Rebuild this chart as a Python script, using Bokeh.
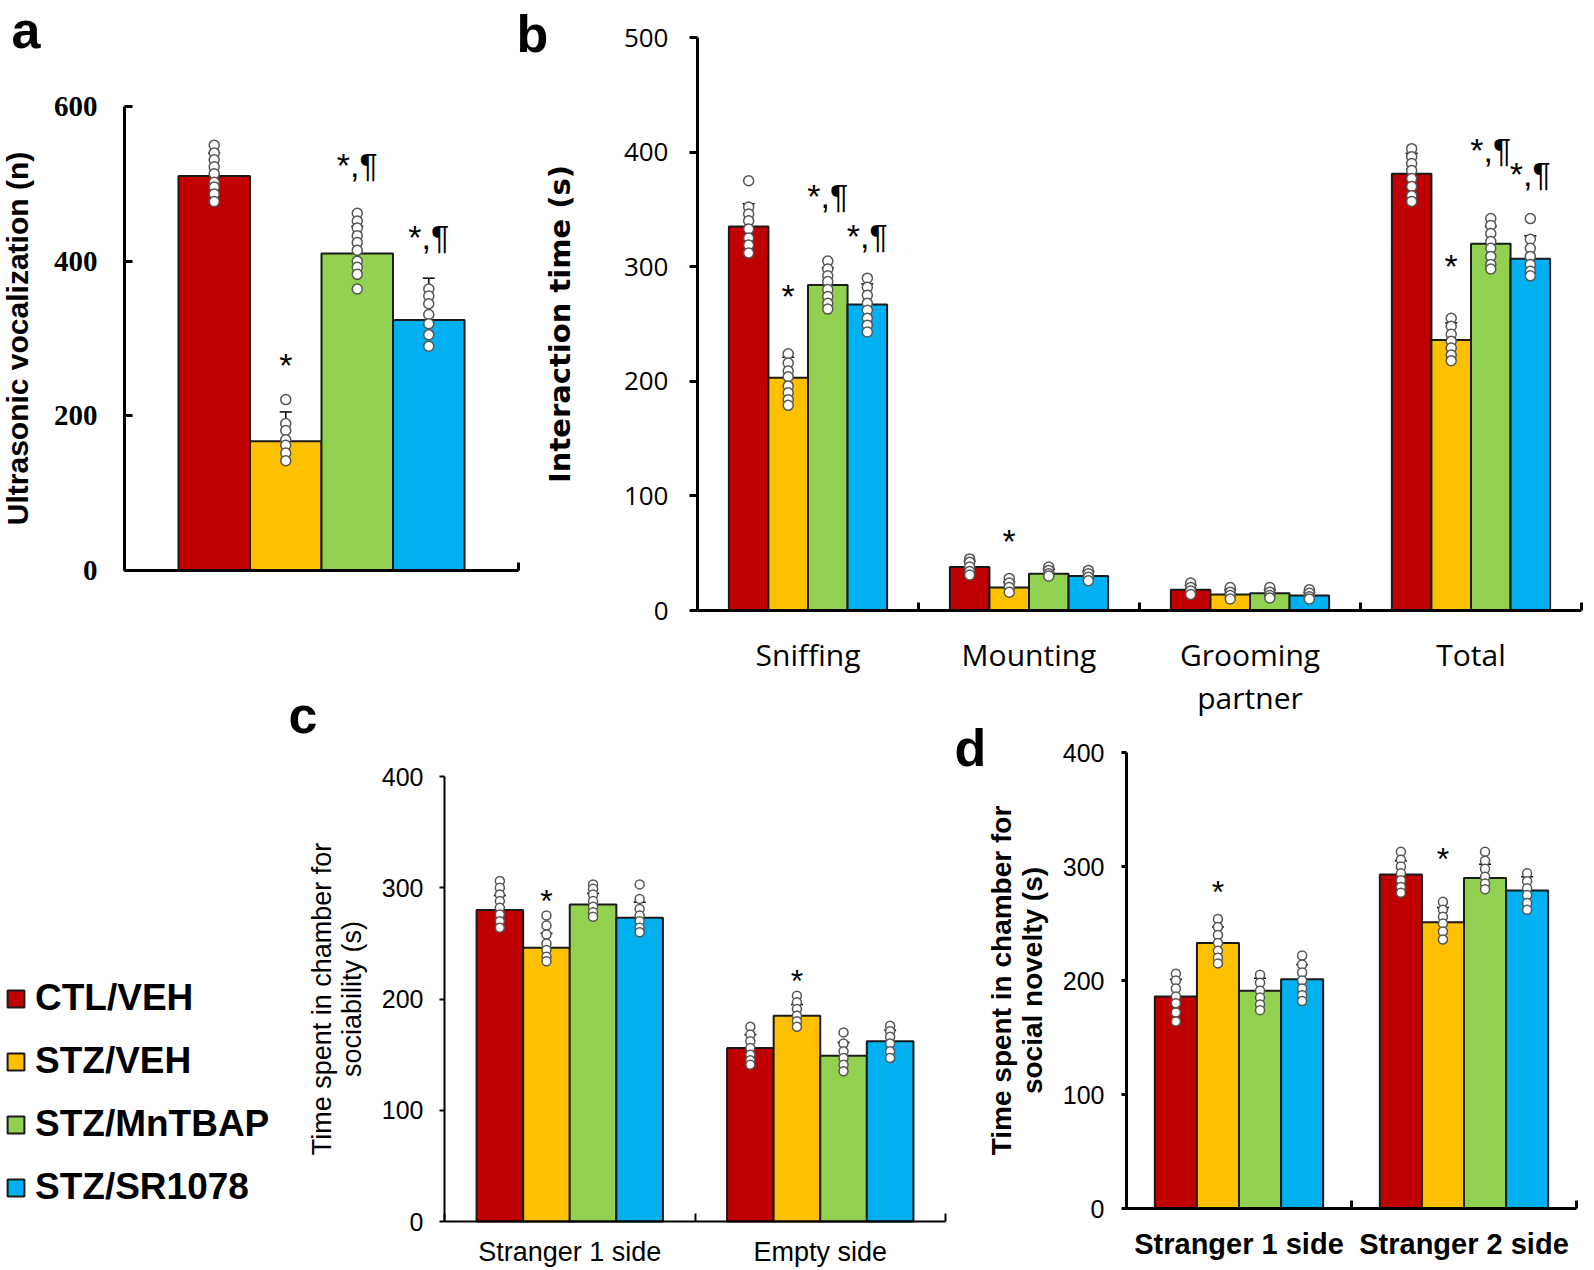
from bokeh.plotting import figure
from bokeh.models import (Range1d, FixedTicker, Legend, LegendItem, Label, LinearAxis)
from bokeh.core.properties import value
from bokeh.embed import file_html
from bokeh.resources import INLINE

GROUPS = ["CTL/VEH", "STZ/VEH", "STZ/MnTBAP", "STZ/SR1078"]
COLORS = ["#C00000", "#FFC000", "#92D050", "#00B0F0"]

# ---------------- panel a : ultrasonic vocalization ----------------
A_CATS = [""]
A_YTICKS = [0, 200, 400, 600]
A_MEAN = [[510], [167], [410], [324]]
A_SD = [[30], [38], [35], [54]]
A_PTS = [
    [[550, 540, 531, 522, 513, 502, 496, 487, 477]],
    [[221, 190, 181, 169, 162, 152, 142]],
    [[462, 452, 443, 433, 424, 414, 400, 392, 383, 364]],
    [[364, 355, 345, 331, 319, 305, 290]],
]
A_SIG = [[""], ["*"], ["*,¶"], ["*,¶"]]
A_SIG_Y = [[None], [271], [521], [428]]

# ---------------- panel b : interaction time ----------------
B_CATS = ["Sniffing", "Mounting", "Grooming\npartner", "Total"]
B_YTICKS = [0, 100, 200, 300, 400, 500]
B_MEAN = [[335, 38, 18, 381], [203, 20, 14, 236], [284, 32, 15, 320], [267, 30, 13, 307]]
B_SD = [[20, 5, 4, 18], [18, 5, 4, 15], [15, 4, 3, 15], [18, 4, 3, 20]]
B_PTS = [
    [[375, 352, 346, 340, 333, 325, 319, 312], [45, 42, 38, 34, 31], [24, 20, 17, 14],
     [403, 396, 390, 384, 377, 370, 362, 357]],
    [[224, 216, 209, 204, 196, 190, 184, 179], [28, 24, 20, 16], [20, 16, 13, 10],
     [255, 248, 241, 235, 229, 223, 218]],
    [[305, 298, 292, 287, 280, 274, 268, 263], [38, 35, 32, 30], [20, 16, 13, 11],
     [342, 336, 329, 322, 316, 309, 302, 298]],
    [[290, 282, 275, 268, 262, 255, 249, 243], [35, 32, 29, 26], [18, 15, 12, 10],
     [342, 324, 316, 309, 302, 296, 292]],
]
B_SIG = [["", "", "", ""], ["*", "*", "", "*"], ["*,¶", "", "", "*,¶"], ["*,¶", "", "", "*,¶"]]
B_SIG_Y = [[None, None, None, None], [278, 64, None, 304], [359, None, None, 399],
           [324, None, None, 378]]

# ---------------- panel c : sociability ----------------
C_CATS = ["Stranger 1 side", "Empty side"]
C_YTICKS = [0, 100, 200, 300, 400]
C_MEAN = [[280, 156], [246, 185], [285, 149], [273, 162]]
C_SD = [[13, 12], [13, 10], [10, 12], [14, 10]]
C_PTS = [
    [[306, 300, 294, 288, 282, 276, 270, 264], [175, 168, 162, 156, 150, 145, 141]],
    [[275, 266, 258, 250, 244, 238, 234], [203, 197, 191, 185, 180, 175]],
    [[303, 299, 294, 288, 283, 278, 274], [170, 160, 153, 147, 141, 135]],
    [[303, 290, 281, 275, 270, 264, 260], [176, 171, 166, 160, 153, 147]],
]
C_SIG = [["", ""], ["*", "*"], ["", ""], ["", ""]]
C_SIG_Y = [[None, None], [292, 220], [None, None], [None, None]]

# ---------------- panel d : social novelty ----------------
D_CATS = ["Stranger 1 side", "Stranger 2 side"]
D_YTICKS = [0, 100, 200, 300, 400]
D_MEAN = [[186, 293], [233, 251], [191, 290], [201, 279]]
D_SD = [[15, 12], [14, 13], [11, 12], [13, 12]]
D_PTS = [
    [[206, 200, 193, 186, 180, 172, 164], [313, 306, 300, 294, 288, 282, 277]],
    [[254, 247, 240, 233, 226, 220, 215], [269, 262, 256, 250, 243, 236]],
    [[205, 198, 191, 185, 179, 174], [313, 305, 298, 291, 285, 280]],
    [[222, 214, 207, 200, 193, 187, 182], [294, 287, 281, 275, 268, 262]],
]
D_SIG = [["", ""], ["*", "*"], ["", ""], ["", ""]]
D_SIG_Y = [[None, None], [281, 310], [None, None], [None, None]]

# ---------------- page layout (pixels) ----------------
W, H = 1592, 1268
fig = figure(width=W, height=H, x_range=Range1d(0, W), y_range=Range1d(H, 0),
             x_axis_type=None, y_axis_type=None, min_border=0,
             output_backend="svg", toolbar_location=None)
fig.grid.visible = False
fig.outline_line_color = None
fig.background_fill_color = "white"
fig.border_fill_color = "white"

xr, yr = {}, {}


def panel(name, box, ymax, yticks, cats, means, sds, pts, sigs, sig_y, st):
    L, R, T, B = box
    ncat = len(cats)
    kx = (R - L) / ncat
    ky = (B - T) / ymax
    xn, yn = name + "_x", name + "_y"
    xr[xn] = Range1d(-L / kx, ncat + (W - R) / kx)
    yr[yn] = Range1d(-(H - B) / ky, ymax + T / ky)
    fig.extra_x_ranges = dict(xr)
    fig.extra_y_ranges = dict(yr)
    kw = dict(x_range_name=xn, y_range_name=yn)

    bw = st["bar_w"]
    cap = st["cap_px"] / kx
    xs_all, bars = [], []
    for s in range(4):
        xs = [c + 0.5 + (s - 1.5) * bw for c in range(ncat)]
        xs_all.append(xs)
        bars.append(fig.vbar(x=xs, top=means[s], bottom=0, width=bw, fill_color=COLORS[s],
                             line_color="#1a1a1a", line_width=st["bar_lw"], **kw))
    for s in range(4):
        xs = xs_all[s]
        up = [m + e for m, e in zip(means[s], sds[s])]
        fig.segment(x0=xs, y0=means[s], x1=xs, y1=up, line_color="black", line_width=1.5, **kw)
        fig.segment(x0=[x - cap for x in xs], y0=up, x1=[x + cap for x in xs], y1=up,
                    line_color="black", line_width=1.5, **kw)
    for s in range(4):
        px, py = [], []
        for c in range(ncat):
            for v in pts[s][c]:
                px.append(xs_all[s][c])
                py.append(v)
        fig.scatter(px, py, size=st["dot"], fill_color="white", line_color="#555555",
                    line_width=1.5, **kw)
    for s in range(4):
        for c in range(ncat):
            t = sigs[s][c]
            if not t:
                continue
            fig.text(x=[xs_all[s][c]], y=[sig_y[s][c]], text=[t], text_align="center",
                     text_baseline="middle", y_offset=(4 if t == "*" else -3),
                     text_font=value("Liberation Sans"), text_font_size=value(st["sig_fs"]),
                     text_color="black", **kw)

    yax = LinearAxis(fixed_location=0, bounds=(0, ymax), ticker=FixedTicker(ticks=yticks), **kw)
    yax.minor_tick_line_color = None
    yax.axis_line_width = st["axis_lw"]
    yax.axis_line_color = "black"
    yax.major_tick_line_width = st["axis_lw"]
    yax.major_tick_line_color = "black"
    yax.major_tick_in = st["ytick_in"]
    yax.major_tick_out = st["ytick_out"]
    yax.major_label_standoff = st["ylab_standoff"]
    yax.major_label_text_font = st["ytick_font"]
    yax.major_label_text_font_style = st["ytick_style"]
    yax.major_label_text_font_size = st["ytick_fs"]
    yax.major_label_text_color = "black"
    yax.axis_label = st["ylabel"]
    yax.axis_label_text_font = st["ylabel_font"]
    yax.axis_label_text_font_style = st["ylabel_style"]
    yax.axis_label_text_font_size = st["ylabel_fs"]
    yax.axis_label_text_line_height = st.get("ylabel_lh", 1.2)
    yax.axis_label_text_color = "black"
    yax.axis_label_standoff = st["ylabel_standoff"]
    fig.add_layout(yax, "left")

    centers = [c + 0.5 for c in range(ncat)] if any(cats) else []
    xax = LinearAxis(fixed_location=0, bounds=(0, ncat),
                     ticker=FixedTicker(ticks=centers, minor_ticks=list(range(ncat + 1))), **kw)
    xax.major_label_overrides = {c + 0.5: n for c, n in enumerate(cats) if n}
    xax.axis_line_width = st["axis_lw"]
    xax.axis_line_color = "black"
    xax.major_tick_line_color = None
    xax.major_tick_in = 0
    xax.major_tick_out = 0
    xax.minor_tick_in = 8
    xax.minor_tick_out = 0
    xax.minor_tick_line_width = st["axis_lw"]
    xax.minor_tick_line_color = "black"
    xax.major_label_standoff = st["xlab_standoff"]
    xax.major_label_text_font = st["xtick_font"]
    xax.major_label_text_font_style = st["xtick_style"]
    xax.major_label_text_font_size = st["xtick_fs"]
    xax.major_label_text_line_height = st.get("xtick_lh", 1.2)
    xax.major_label_text_color = "black"
    fig.add_layout(xax, "below")

    lx, ly = st["letter_at"]
    fig.add_layout(Label(x=lx, y=ly, text=name, text_font="Liberation Sans",
                         text_font_style="bold", text_font_size="52px",
                         text_baseline="alphabetic", text_color="black"))
    return bars


bars_a = panel("a", (124, 518, 106, 570), 600, A_YTICKS, A_CATS, A_MEAN, A_SD, A_PTS, A_SIG, A_SIG_Y, dict(
    bar_w=0.1815, cap_px=6, bar_lw=2, dot=10, sig_fs="34px", axis_lw=3,
    ytick_in=8, ytick_out=0, ylab_standoff=27, ytick_font="Liberation Serif", ytick_style="bold",
    ytick_fs="29px", ylabel="Ultrasonic vocalization (n)", ylabel_font="Liberation Sans",
    ylabel_style="bold", ylabel_fs="30px", ylabel_standoff=17, xlab_standoff=10,
    xtick_font="Liberation Sans", xtick_style="normal", xtick_fs="20px", letter_at=(11, 29)))

panel("b", (697, 1581, 37, 610), 500, B_YTICKS, B_CATS, B_MEAN, B_SD, B_PTS, B_SIG, B_SIG_Y, dict(
    bar_w=0.179, cap_px=6, bar_lw=2, dot=10, sig_fs="34px", axis_lw=3,
    ytick_in=0, ytick_out=8, ylab_standoff=21, ytick_font="Open Sans", ytick_style="normal",
    ytick_fs="26px", ylabel="Interaction time (s)", ylabel_font="DejaVu Sans",
    ylabel_style="bold", ylabel_fs="29px", ylabel_standoff=44, xlab_standoff=23,
    xtick_font="Open Sans", xtick_style="normal", xtick_fs="30px", xtick_lh=1.05,
    letter_at=(516, 33)))

panel("c", (444, 945, 776, 1221), 400, C_YTICKS, C_CATS, C_MEAN, C_SD, C_PTS, C_SIG, C_SIG_Y, dict(
    bar_w=0.186, cap_px=6, bar_lw=2, dot=9, sig_fs="32px", axis_lw=2,
    ytick_in=0, ytick_out=5, ylab_standoff=16, ytick_font="Liberation Sans", ytick_style="normal",
    ytick_fs="25px", ylabel="Time spent in chamber for\nsociability (s)", ylabel_font="Liberation Sans",
    ylabel_style="normal", ylabel_fs="27px", ylabel_lh=1.0, ylabel_standoff=12, xlab_standoff=15,
    xtick_font="Liberation Sans", xtick_style="normal", xtick_fs="27px", letter_at=(288, 714)))

panel("d", (1126, 1576, 752, 1208), 400, D_YTICKS, D_CATS, D_MEAN, D_SD, D_PTS, D_SIG, D_SIG_Y, dict(
    bar_w=0.187, cap_px=6, bar_lw=2, dot=9, sig_fs="32px", axis_lw=3,
    ytick_in=0, ytick_out=5, ylab_standoff=17, ytick_font="Liberation Sans", ytick_style="normal",
    ytick_fs="25px", ylabel="Time spent in chamber for\nsocial novelty (s)", ylabel_font="Liberation Sans",
    ylabel_style="bold", ylabel_fs="28px", ylabel_lh=1.0, ylabel_standoff=12, xlab_standoff=19,
    xtick_font="Liberation Sans", xtick_style="bold", xtick_fs="29px", letter_at=(954, 747)))

legend = Legend(items=[LegendItem(label=GROUPS[s], renderers=[bars_a[s]]) for s in range(4)],
                location=(5, 60), orientation="vertical", glyph_width=21, glyph_height=21,
                label_standoff=9, spacing=21, padding=0, margin=0, border_line_color=None,
                background_fill_color=None, label_text_font="Liberation Sans",
                label_text_font_style="bold", label_text_font_size="37px",
                label_text_color="black")
fig.add_layout(legend)

open("out.html", "w").write(file_html(fig, INLINE))
